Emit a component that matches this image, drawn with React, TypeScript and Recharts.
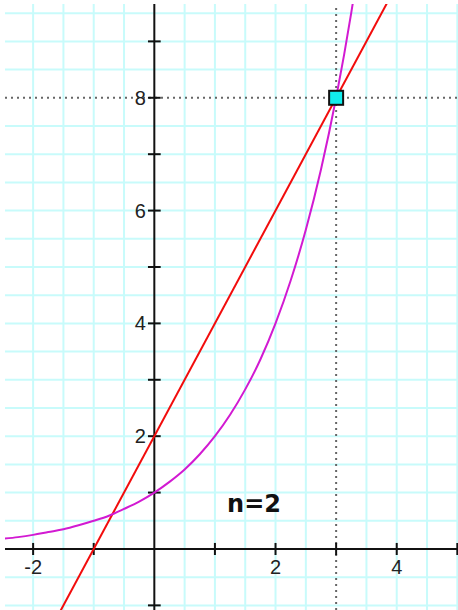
import React from 'react';
import {
  ComposedChart,
  Line,
  Scatter,
  XAxis,
  YAxis,
  ReferenceLine,
  ReferenceDot,
} from 'recharts';

// curve y = 2^x
const curveX = [-2.5, -2.25, -2, -1.75, -1.5, -1.25, -1, -0.75, -0.5, -0.25, 0, 0.25, 0.5, 0.75, 1, 1.25, 1.5, 1.75, 2, 2.25, 2.5, 2.75, 3, 3.25, 3.5];
const curveY = [0.18, 0.21, 0.25, 0.3, 0.35, 0.42, 0.5, 0.59, 0.71, 0.84, 1, 1.19, 1.41, 1.68, 2, 2.38, 2.83, 3.36, 4, 4.76, 5.66, 6.73, 8, 9.51, 11.31];

// straight line through (-1,0) and (3,8)
const lineX = [-2.5, 5];
const lineY = [-3, 12];

const pointX = [3];
const pointY = [8];

const gridX = [-2, -1.5, -1, -0.5, 0.5, 1, 1.5, 2, 2.5, 3.5, 4, 4.5, 5];
const gridY = [-1, -0.5, 0.5, 1, 1.5, 2, 2.5, 3, 3.5, 4, 4.5, 5, 5.5, 6, 6.5, 7, 7.5, 8.5, 9, 9.5];

const xTicks = [-2, -1, 1, 2, 3, 4, 5];
const xTickLabels = ['-2', '2', '4'];
const yTicks = [-1, 1, 2, 3, 4, 5, 6, 7, 8, 9];
const yTickLabels = ['2', '4', '6', '8'];

const X_DOMAIN: [number, number] = [-2.464, 5.011];
const Y_DOMAIN: [number, number] = [-1.082, 9.663];

const curveData = curveX.map((x, i) => ({ x, y: curveY[i] }));
const lineData = lineX.map((x, i) => ({ x, y: lineY[i] }));
const pointData = pointX.map((x, i) => ({ x, y: pointY[i] }));

const GRID = '#c8fbfb';
const labelStyle = { fontSize: 20, fill: '#222', fontFamily: '"Liberation Sans", Arial, sans-serif' };

const SquareMarker = (props: any) => {
  const { cx, cy } = props;
  return <rect x={cx - 7} y={cy - 7} width={14} height={14} fill="#11eeee" stroke="#111" strokeWidth={2} />;
};

export default function App() {
  return (
    <div style={{ position: 'absolute', left: 0, top: 0, width: 458, height: 610, background: '#fff' }}>
      <ComposedChart width={458} height={610} margin={{ top: 4, right: 0, bottom: 0, left: 5 }}>
        <XAxis type="number" dataKey="x" domain={X_DOMAIN} allowDataOverflow hide />
        <YAxis type="number" dataKey="y" domain={Y_DOMAIN} allowDataOverflow hide />

        {/* light grid every half unit */}
        {gridX.map((g) => (
          <ReferenceLine key={`gx${g}`} x={g} stroke={GRID} strokeWidth={2} />
        ))}
        {gridY.map((g) => (
          <ReferenceLine key={`gy${g}`} y={g} stroke={GRID} strokeWidth={2} />
        ))}

        {/* dotted guides through the point */}
        <ReferenceLine x={3} stroke="#666" strokeWidth={2} strokeDasharray="2 4" />
        <ReferenceLine y={8} stroke="#666" strokeWidth={2} strokeDasharray="2 4" />

        {/* axes through the origin */}
        <ReferenceLine y={0} stroke="#111" strokeWidth={2} />
        <ReferenceLine x={0} stroke="#111" strokeWidth={2} />

        {xTicks.map((t) => (
          <ReferenceLine
            key={`xt${t}`}
            segment={[{ x: t, y: -0.107 }, { x: t, y: 0.107 }]}
            stroke="#111"
            strokeWidth={2}
            label={xTickLabels.includes(String(t)) ? { value: String(t), position: 'bottom', offset: 5, ...labelStyle } : undefined}
          />
        ))}
        {yTicks.map((t) => (
          <ReferenceLine
            key={`yt${t}`}
            segment={[{ x: -0.105, y: t }, { x: 0.105, y: t }]}
            stroke="#111"
            strokeWidth={2}
            label={yTickLabels.includes(String(t)) ? { value: String(t), position: 'left', offset: 2, ...labelStyle } : undefined}
          />
        ))}

        <Line data={lineData} dataKey="y" type="linear" stroke="#f20c0c" strokeWidth={2} dot={false} isAnimationActive={false} />
        <Line data={curveData} dataKey="y" type="monotone" stroke="#d21ad2" strokeWidth={2} dot={false} isAnimationActive={false} />
        <Scatter data={pointData} dataKey="y" shape={SquareMarker} isAnimationActive={false} />

        <ReferenceDot
          x={1.645}
          y={0.8}
          r={0}
          stroke="none"
          label={{ value: 'n=2', position: 'center', fontSize: 24, fontWeight: 'bold', fill: '#111', fontFamily: '"DejaVu Sans", Verdana, sans-serif' }}
        />
      </ComposedChart>
    </div>
  );
}
